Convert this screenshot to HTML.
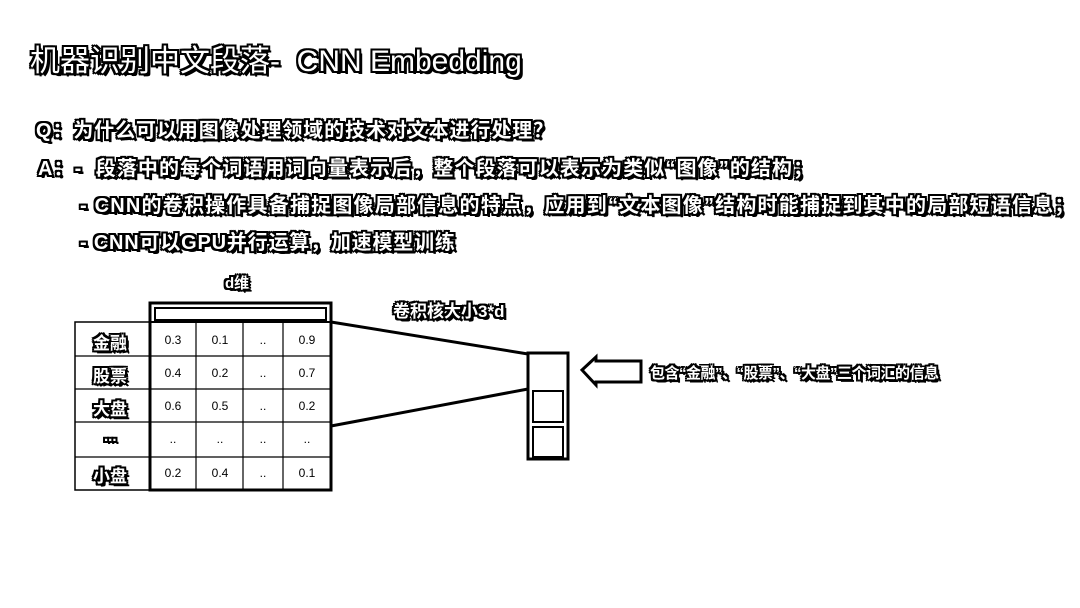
<!DOCTYPE html>
<html><head><meta charset="utf-8"><style>
body{margin:0;width:1080px;height:608px;background:#fff;overflow:hidden;position:relative;font-family:"Liberation Sans","Noto Sans CJK SC",sans-serif}
.t{position:absolute;color:#fff;white-space:nowrap;font-weight:bold;
text-shadow:-2px -2px 0 #000,2px -2px 0 #000,-2px 2px 0 #000,2px 2px 0 #000,0 -2px 0 #000,0 2px 0 #000,-2px 0 0 #000,2px 0 0 #000,3px 3px 0 #000;}
</style></head><body>
<div class="t" style="left:30px;top:36px;font-size:30px;letter-spacing:0px;font-weight:normal">机器识别中文段落-&nbsp; CNN Embedding</div>
<div class="t" style="left:36px;top:114px;font-size:20px;letter-spacing:0.9px">Q：为什么可以用图像处理领域的技术对文本进行处理？</div>
<div class="t" style="left:38px;top:152px;font-size:20px;letter-spacing:1.1px">A：-&nbsp; 段落中的每个词语用词向量表示后，整个段落可以表示为类似“图像”的结构；</div>
<div class="t" style="left:80px;top:189px;font-size:20px;letter-spacing:1.2px">- CNN的卷积操作具备捕捉图像局部信息的特点，应用到“文本图像”结构时能捕捉到其中的局部短语信息；</div>
<div class="t" style="left:80px;top:226px;font-size:20px;letter-spacing:0.8px">- CNN可以GPU并行运算，加速模型训练</div>
<div class="t" style="left:225px;top:272px;font-size:15px">d维</div>
<div class="t" style="left:393px;top:297px;font-size:17px">卷积核大小3*d</div>
<div class="t" style="left:650px;top:362px;font-size:15px;letter-spacing:-0.5px">包含“金融”、“股票”、“大盘”三个词汇的信息</div>
<svg width="1080" height="608" style="position:absolute;left:0;top:0" font-family="Liberation Sans,sans-serif" font-size="12">
<g stroke="#000" fill="none">
<rect x="150" y="303" width="181" height="187" stroke-width="3"/>
<rect x="155" y="308" width="171" height="12" stroke-width="2"/>
<line x1="150" y1="322" x2="331" y2="322" stroke-width="2"/>
<rect x="75" y="322" width="75" height="168" stroke-width="1.5"/>
<g stroke-width="1.2">
<line x1="75" y1="356" x2="331" y2="356"/><line x1="75" y1="389" x2="331" y2="389"/>
<line x1="75" y1="422" x2="331" y2="422"/><line x1="75" y1="457" x2="331" y2="457"/>
<line x1="196" y1="322" x2="196" y2="490"/><line x1="243" y1="322" x2="243" y2="490"/><line x1="283" y1="322" x2="283" y2="490"/>
</g>
<line x1="331" y1="322" x2="528" y2="354" stroke-width="3"/>
<line x1="331" y1="426" x2="528" y2="389" stroke-width="3"/>
<rect x="528" y="353" width="40" height="106" stroke-width="3"/>
<rect x="533" y="391" width="30" height="31" stroke-width="2"/>
<rect x="533" y="427" width="30" height="30" stroke-width="2"/>
<path d="M582 370 L596 357 L596 361 L641 361 L641 382 L596 382 L596 385 Z" stroke-width="3" fill="#fff"/>
</g>
<g text-anchor="middle">
<text x="173" y="344">0.3</text><text x="220" y="344">0.1</text><text x="263" y="344">..</text><text x="307" y="344">0.9</text>
<text x="173" y="377">0.4</text><text x="220" y="377">0.2</text><text x="263" y="377">..</text><text x="307" y="377">0.7</text>
<text x="173" y="410">0.6</text><text x="220" y="410">0.5</text><text x="263" y="410">..</text><text x="307" y="410">0.2</text>
<text x="173" y="443">..</text><text x="220" y="443">..</text><text x="263" y="443">..</text><text x="307" y="443">..</text>
<text x="173" y="477">0.2</text><text x="220" y="477">0.4</text><text x="263" y="477">..</text><text x="307" y="477">0.1</text>
</g>
</svg>
<div class="t" style="left:93px;top:329px;font-size:17px">金融</div>
<div class="t" style="left:93px;top:362px;font-size:17px">股票</div>
<div class="t" style="left:93px;top:395px;font-size:17px">大盘</div>
<div class="t" style="left:104px;top:428px;font-size:15px">...</div>
<div class="t" style="left:93px;top:462px;font-size:17px">小盘</div>
</body></html>
